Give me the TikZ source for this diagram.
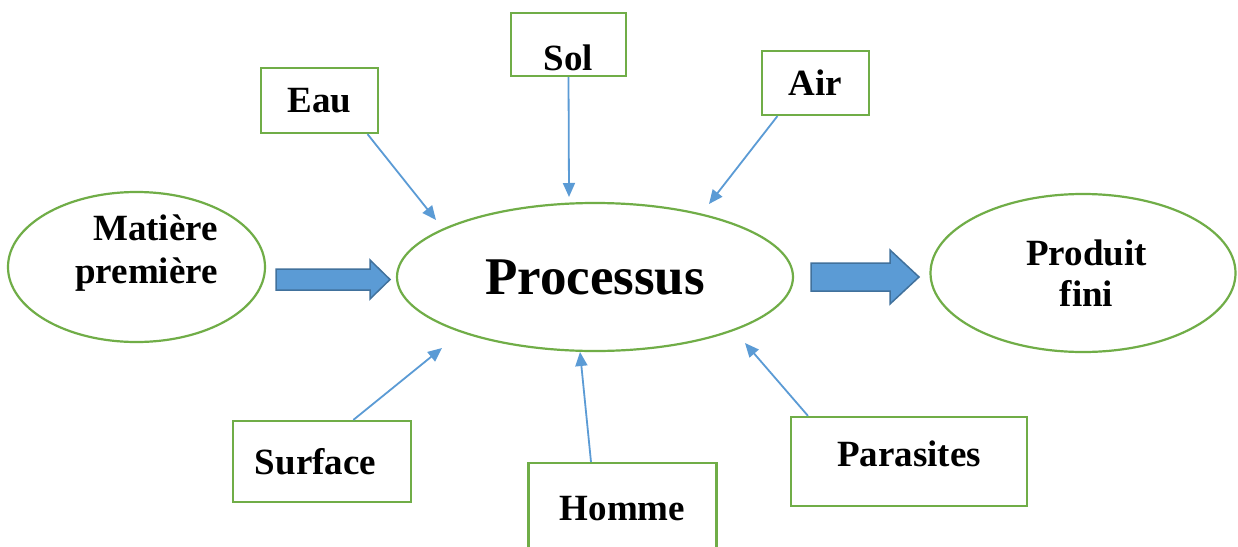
\documentclass[tikz,border=0pt]{standalone}
\usepackage{fontspec}
\setmainfont{Liberation Serif}
\usetikzlibrary{shapes.geometric,arrows.meta}
\definecolor{boxgreen}{HTML}{70AD47}
\definecolor{flowblue}{HTML}{5B9BD5}
\definecolor{flowedge}{HTML}{41719C}
\begin{document}
\begin{tikzpicture}[x=1pt,y=-1pt]
        \tikzset{box/.style = {draw=boxgreen,line width=2.2pt,inner sep=0pt,font=\fontsize{37}{42}\selectfont\bfseries}}
        \tikzset{oval/.style = {shape=ellipse,draw=boxgreen,line width=2.2pt,inner sep=0pt,font=\fontsize{37}{41}\selectfont\bfseries}}
        \tikzset{feed/.style = {draw=flowblue,line width=1.8pt,-{Triangle[length=14pt,width=12pt]}}}
        \tikzset{bigarrow/.style = {fill=flowblue,draw=flowedge,line width=1.5pt,line join=miter}}
        \fill[white] (0,0) rectangle (1238,546);
        \useasboundingbox (0,0) rectangle (1238,546);
        \clip (0,0) rectangle (1238,546);
        % the three stages
        \node[oval,minimum width=257pt,minimum height=150pt] (mp) at (136.5,267) {};
        \node[font=\fontsize{37}{43}\selectfont\bfseries,align=right,anchor=east,inner sep=0pt] (mpText) at (218,253) {Matière\\première};
        \node[oval,minimum width=396pt,minimum height=148pt,font=\fontsize{53}{60}\selectfont\bfseries] (proc) at (595,277) {Processus};
        \node[oval,minimum width=305pt,minimum height=158pt,align=center] (pf) at (1083,273) {\hspace*{7pt}Produit\\\hspace*{7pt}fini};
        % factors above
        \node[box,minimum width=117pt,minimum height=65pt] (eau) at (319.5,100.5) {Eau};
        \node[box,minimum width=115pt,minimum height=63pt,text height=51pt,text depth=0pt] (sol) at (568.5,44.5) {Sol};
        \node[box,minimum width=107pt,minimum height=64pt] (air) at (815.5,83) {Air};
        % factors below
        \node[box,minimum width=178pt,minimum height=81pt] (surface) at (322,461.5) {Surface\kern13pt};
        \node[box,minimum width=188pt,minimum height=94pt,text height=25pt,text depth=5pt] (homme) at (622.5,510) {Homme};
        \node[box,minimum width=236pt,minimum height=89pt,text height=25pt,text depth=16pt] (parasites) at (909,461.5) {Parasites};
        % arrow tips near the process
        \coordinate (eauTip) at (436,220);
        \coordinate (solTip) at (569,197);
        \coordinate (airTip) at (709,204);
        \coordinate (surfTip) at (442,348);
        \coordinate (hommeTip) at (580,352);
        \coordinate (parTip) at (745,343);
        \draw[feed] (eau.-35) -- (eauTip);
        \draw[feed] (sol.south) -- (solTip);
        \draw[feed] (air.-139) -- (airTip);
        \draw[feed] (surface.53.5) -- (surfTip);
        \draw[feed] ([xshift=-31.5pt]homme.north) -- (hommeTip);
        \draw[feed] ([xshift=-101pt]parasites.north) -- (parTip);
        % block arrows
        \draw[bigarrow] (276,269) -- (370,269) -- (370,260) -- (390,279.5) -- (370,299) -- (370,290) -- (276,290) -- cycle;
        \draw[bigarrow] (811,263) -- (890,263) -- (890,250) -- (919,277) -- (890,304) -- (890,291) -- (811,291) -- cycle;
\end{tikzpicture}
\end{document}
